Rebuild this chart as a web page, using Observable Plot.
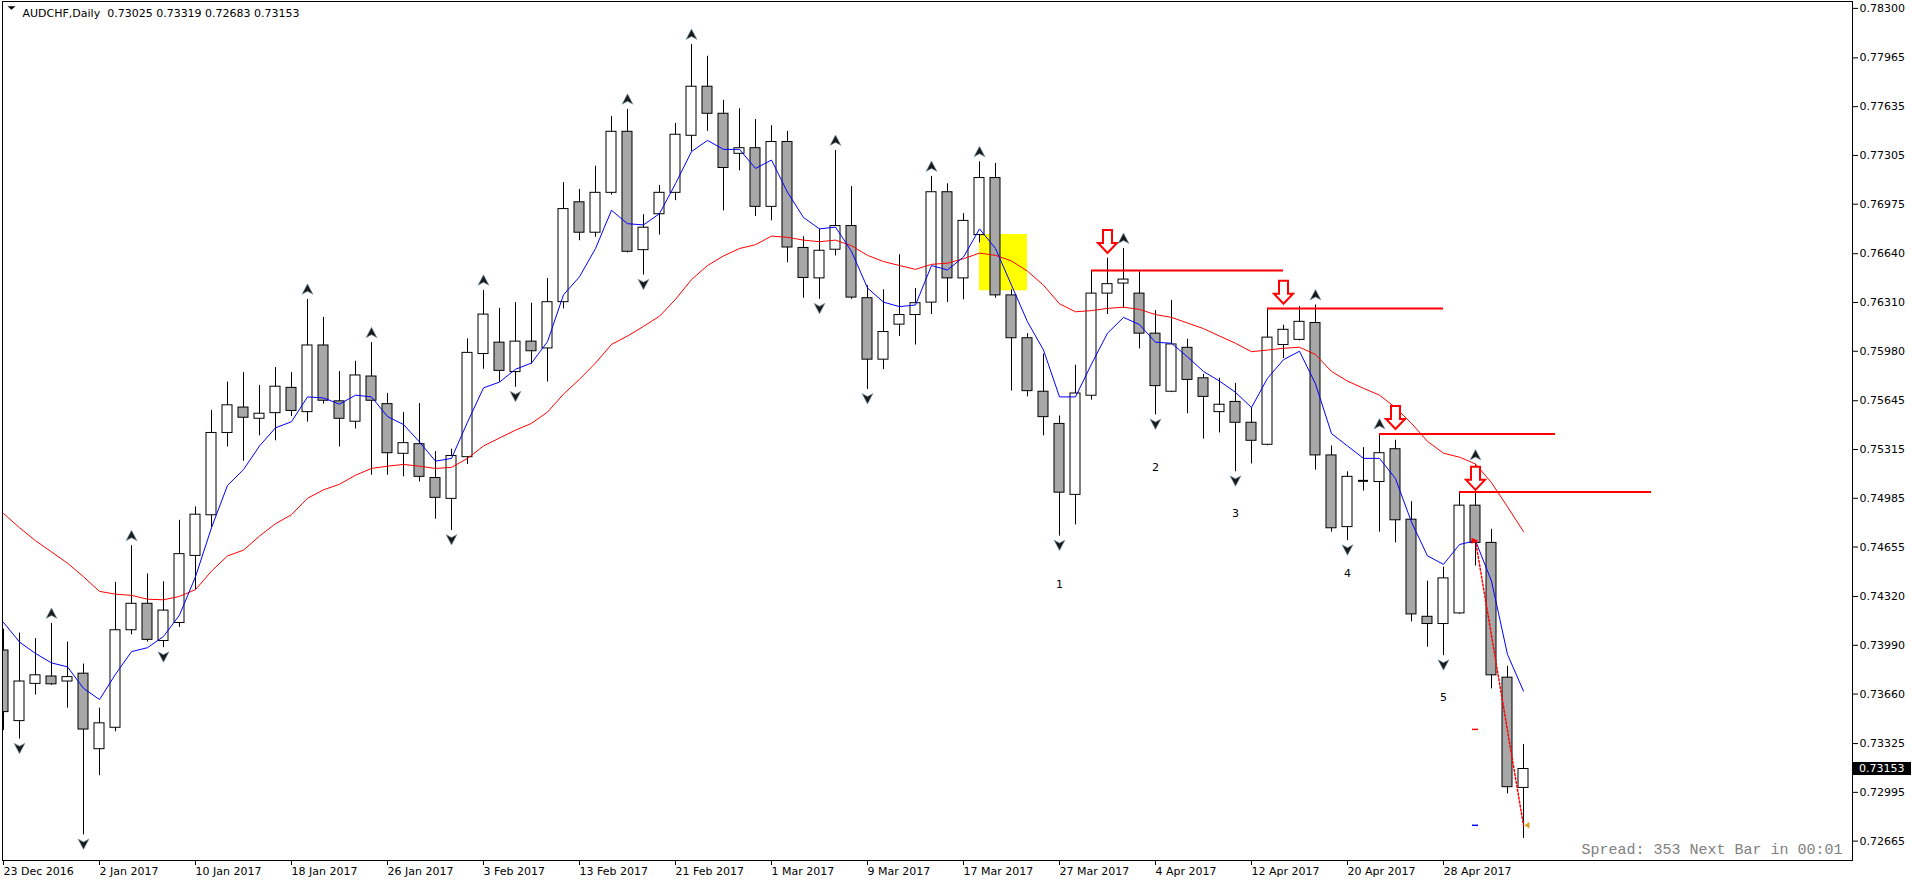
<!DOCTYPE html>
<html><head><meta charset="utf-8">
<script src="https://cdn.jsdelivr.net/npm/d3@7"></script>
<script src="https://cdn.jsdelivr.net/npm/@observablehq/plot@0.6"></script>
<style>html,body{margin:0;padding:0;background:#fff;overflow:hidden}</style>
</head><body><div id="chart"></div>
<script>
// ---------- data ----------
const title = "AUDCHF,Daily  0.73025 0.73319 0.72683 0.73153";
const xTickIdx = [0,6,12,18,24,30,36,42,48,54,60,66,72,78,84,90];
const xTickLabels = ["23 Dec 2016","2 Jan 2017","10 Jan 2017","18 Jan 2017","26 Jan 2017","3 Feb 2017","13 Feb 2017","21 Feb 2017","1 Mar 2017","9 Mar 2017","17 Mar 2017","27 Mar 2017","4 Apr 2017","12 Apr 2017","20 Apr 2017","28 Apr 2017"];
const yTicks = [0.78300,0.77965,0.77635,0.77305,0.76975,0.76640,0.76310,0.75980,0.75645,0.75315,0.74985,0.74655,0.74320,0.73990,0.73660,0.73325,0.72995,0.72665];

const open = [
.73955,.73477,.73729,.73779,.73745,.73798,.73287,.73432,.74092,.74271,
.74019,.74141,.74595,.74870,.75427,.75599,.75523,.75561,.75732,.75568,
.76019,.75641,.75503,.75809,.75622,.75286,.75351,.75122,.74981,.75263,
.75961,.76038,.75839,.76045,.75999,.76312,.76988,.76782,.77052,.77465,
.76664,.76907,.77052,.77438,.77770,.77587,.77316,.77354,.76957,.77396,
.76679,.76473,.76667,.76827,.76339,.75923,.76160,.76225,.76309,.77056,
.76473,.76766,.77152,.76358,.76068,.75706,.75488,.75008,.75679,.76370,
.76438,.76370,.76099,.75706,.76003,.75797,.75568,.75637,.75496,.75347,
.76022,.76057,.76171,.75275,.74790,.75103,.75095,.75317,.74840,.74183,
.74134,.74206,.74935,.74683,.73771,.73025];
const high = [
.74099,.74073,.74035,.74138,.74012,.73863,.73565,.74416,.74664,.74473,
.74420,.74836,.74927,.75580,.75771,.75835,.75748,.75870,.75835,.76331,
.76209,.75843,.75912,.76038,.75694,.75565,.75626,.75301,.75317,.76064,
.76392,.76270,.76309,.76305,.76473,.77121,.77075,.77232,.77568,.77617,
.76904,.77102,.77522,.78056,.77976,.77678,.77621,.77548,.77506,.77468,
.76755,.76808,.77339,.77094,.76423,.76396,.76633,.76404,.77163,.77113,
.76911,.77262,.77251,.76396,.76099,.75961,.75542,.75885,.76526,.76610,
.76675,.76518,.76255,.76324,.76061,.75824,.75797,.75763,.75599,.76270,
.76156,.76282,.76293,.75339,.75164,.75328,.75420,.75378,.74962,.74424,
.74519,.75027,.75210,.74775,.73848,.73319];
const low = [
.73413,.73355,.73653,.73718,.73565,.72707,.73108,.73405,.74061,.74012,
.73974,.74111,.74367,.74786,.75332,.75236,.75408,.75374,.75538,.75500,
.75622,.75332,.75454,.75141,.75141,.75130,.75095,.74843,.74767,.75214,
.75858,.75771,.75736,.75893,.75771,.76267,.76728,.76751,.77037,.76645,
.76495,.76766,.76999,.77331,.77468,.76930,.77201,.76892,.76862,.76579,
.76339,.76331,.76625,.76331,.75721,.75855,.76080,.76022,.76228,.76309,
.76328,.76713,.76339,.75710,.75671,.75408,.74729,.74805,.75649,.76228,
.76270,.75996,.75549,.75700,.75557,.75385,.75427,.75164,.75217,.75340,
.75931,.76050,.75175,.74756,.74698,.75034,.74756,.74683,.74149,.73977,
.73920,.74200,.74527,.73695,.72985,.72683];
const close = [
.73538,.73745,.73787,.73726,.73775,.73420,.73462,.74092,.74271,.74027,
.74225,.74607,.74874,.75427,.75614,.75530,.75557,.75740,.75576,.76019,
.75645,.75523,.75816,.75645,.75290,.75358,.75130,.74988,.75271,.75969,
.76228,.75847,.76045,.75980,.76312,.76942,.76782,.77052,.77465,.76653,
.76816,.77052,.77445,.77770,.77587,.77220,.77354,.76957,.77396,.76682,
.76476,.76660,.76827,.76343,.75923,.76110,.76225,.76305,.77056,.76473,
.76862,.77152,.76358,.76068,.75710,.75534,.75023,.75694,.76370,.76434,
.76465,.76099,.75744,.76026,.75786,.75671,.75618,.75496,.75374,.76072,
.76125,.76179,.75275,.74782,.75130,.75103,.75290,.74836,.74199,.74134,
.74443,.74935,.74683,.73787,.73030,.73153];
const maFast = [
.74145,.74012,.73935,.73871,.73844,.73699,.73623,.73794,.73947,.73974,
.74050,.74195,.74454,.74786,.75072,.75179,.75339,.75462,.75503,.75671,
.75664,.75622,.75683,.75671,.75538,.75484,.75366,.75236,.75255,.75500,
.75732,.75771,.75858,.75900,.76045,.76362,.76484,.76675,.76934,.76843,
.76835,.76911,.77114,.77331,.77407,.77346,.77346,.77217,.77274,.77056,
.76885,.76808,.76820,.76656,.76408,.76312,.76282,.76293,.76560,.76530,
.76618,.76808,.76675,.76427,.76179,.75988,.75671,.75671,.75893,.76102,
.76209,.76160,.76041,.76034,.75942,.75843,.75778,.75702,.75599,.75797,
.75923,.75980,.75759,.75423,.75339,.75255,.75255,.75118,.74824,.74595,
.74538,.74672,.74698,.74424,.73928,.73680];
const maSlow = [
.74882,.74786,.74698,.74622,.74546,.74454,.74355,.74336,.74328,.74302,
.74298,.74321,.74367,.74492,.74595,.74634,.74729,.74813,.74874,.74985,
.75042,.75080,.75141,.75187,.75202,.75214,.75202,.75187,.75194,.75255,
.75339,.75393,.75446,.75492,.75568,.75690,.75790,.75900,.76026,.76083,
.76148,.76217,.76331,.76465,.76560,.76625,.76675,.76701,.76759,.76751,
.76732,.76721,.76732,.76694,.76629,.76587,.76560,.76534,.76568,.76576,
.76606,.76644,.76629,.76591,.76522,.76427,.76301,.76247,.76255,.76270,
.76278,.76263,.76228,.76209,.76171,.76133,.76083,.76034,.75977,.75988,
.76000,.76007,.75958,.75843,.75778,.75729,.75683,.75599,.75492,.75370,
.75290,.75263,.75217,.75091,.74927,.74760];

const fractalUp = [3,8,19,23,30,39,43,52,58,61,70,82,86,92];
const fractalDown = [1,5,10,28,32,40,51,54,66,72,77,84,90];

const waveIdx = [66,72,77,84,90];
const waveText = ["1","2","3","4","5"];
const wavePrice = [0.74401,0.75195,0.74882,0.74474,0.73634];

const resFrom = [68,79,86,91];
const resTo = [80,90,97,103];
const resPrice = [0.76526,0.76270,0.75420,0.75027];

const arrowIdx = [69,80,87,92];
const arrowTip = [0.76645,0.76301,0.75454,0.75042];

const hlFrom = 61, hlTo = 64, hlTop = 0.76770, hlBottom = 0.76389;

const tradeIdx = [92,95];
const tradePrice = [0.74698,0.72772];
const tradeSL = 0.73421, tradeTP = 0.72772;

const spreadText = "Spread: 353 Next Bar in 00:01";
const lastPrice = 0.73153;

// ---------- build ----------
const bars = open.map((o,i)=>({i, open:o, high:high[i], low:low[i], close:close[i]}));
const bull = bars.filter(d=>d.close>d.open);
const bear = bars.filter(d=>d.close<d.open);
const doji = bars.filter(d=>d.close===d.open);
const ma = maFast.map((v,i)=>({i, fast:v, slow:maSlow[i]}));
const hw = 5/16;

const fracUpSym = {draw(c){c.moveTo(0,-5.5);c.lineTo(5.5,5);c.lineTo(0,2);c.lineTo(-5.5,5);c.closePath();}};
const fracDnSym = {draw(c){c.moveTo(0,5.5);c.lineTo(5.5,-5);c.lineTo(0,-2);c.lineTo(-5.5,-5);c.closePath();}};
const sellSym = {draw(c){c.moveTo(-4.5,-23);c.lineTo(4.5,-23);c.lineTo(4.5,-10);c.lineTo(9.5,-10);c.lineTo(0,0);c.lineTo(-9.5,-10);c.lineTo(-4.5,-10);c.closePath();}};
const triDownSym = {draw(c){c.moveTo(-4,-1.8);c.lineTo(4,-1.8);c.lineTo(0,1.8);c.closePath();}};
const arrowRightSym = {draw(c){c.moveTo(-4,-3);c.lineTo(3,0);c.lineTo(-4,3);c.closePath();}};
const triLeftSym = {draw(c){c.moveTo(4,-3.5);c.lineTo(-1,0);c.lineTo(4,3.5);c.closePath();}};

const res = resFrom.map((f,k)=>({x1:f, x2:resTo[k], y:resPrice[k]}));
const arrows = arrowIdx.map((d,k)=>({i:d, y:arrowTip[k]}));
const waves = waveIdx.map((d,k)=>({i:d, y:wavePrice[k], t:waveText[k]}));
const trade = tradeIdx.map((d,k)=>({i:d, y:tradePrice[k]}));

const chart = Plot.plot({
  width: 1912, height: 884,
  marginLeft: 2, marginRight: 60, marginTop: 1, marginBottom: 24,
  x: {type: "linear", domain: [-0.0625, 115.5625]},
  y: {domain: [0.725338, 0.783467]},
  style: {fontFamily: "DejaVu Sans", fontSize: "11px", color: "black", background: "white", overflow: "visible"},
  marks: [
    Plot.rect([0], {x1: ()=>hlFrom, x2: ()=>hlTo, y1: ()=>hlBottom, y2: ()=>hlTop, fill: "#ffff00"}),
    Plot.ruleX(bars, {x: "i", y1: "low", y2: "high", stroke: "black", strokeWidth: 1, clip: true}),
    Plot.rect(bull, {x1: d=>d.i-hw, x2: d=>d.i+hw, y1: "open", y2: "close", fill: "white", stroke: "black", strokeWidth: 1, clip: true}),
    Plot.rect(bear, {x1: d=>d.i-hw, x2: d=>d.i+hw, y1: "open", y2: "close", fill: "#a8a8a8", stroke: "black", strokeWidth: 1, clip: true}),
    Plot.ruleY(doji, {x1: d=>d.i-hw, x2: d=>d.i+hw, y: "open", stroke: "black", strokeWidth: 2}),
    Plot.line(ma, {x: "i", y: "slow", stroke: "#ff0000", strokeWidth: 1, clip: true}),
    Plot.line(ma, {x: "i", y: "fast", stroke: "#0000ff", strokeWidth: 1, clip: true}),
    Plot.ruleY(res, {x1: "x1", x2: "x2", y: "y", stroke: "#ff0000", strokeWidth: 2}),
    Plot.dot(arrows, {x: "i", y: "y", symbol: sellSym, fill: "white", stroke: "#ff0000", strokeWidth: 2}),
    Plot.dot(fractalUp, {x: d=>d, y: d=>high[d], dy: -10, symbol: fracUpSym, fill: "#1a1a1a", stroke: "#7f9fb0", strokeWidth: 0.6}),
    Plot.dot(fractalDown, {x: d=>d, y: d=>low[d], dy: 9, symbol: fracDnSym, fill: "#1a1a1a", stroke: "#7f9fb0", strokeWidth: 0.6}),
    Plot.text(waves, {x: "i", y: "y", text: "t", fill: "black", fontSize: 11}),
    Plot.line(trade, {x: "i", y: "y", stroke: "#ff0000", strokeWidth: 1.5, strokeDasharray: "2,2"}),
    Plot.dot(trade.slice(0,1), {x: "i", y: "y", symbol: arrowRightSym, fill: "#ff0000"}),
    Plot.dot(trade.slice(1), {x: "i", y: "y", dx: 2, symbol: triLeftSym, fill: "#d9a520"}),
    Plot.ruleY([tradeSL], {x1: tradeIdx[0]-0.19, x2: tradeIdx[0]+0.19, y: d=>d, stroke: "#ff0000", strokeWidth: 1.5}),
    Plot.ruleY([tradeTP], {x1: tradeIdx[0]-0.19, x2: tradeIdx[0]+0.19, y: d=>d, stroke: "#0000ff", strokeWidth: 1.5}),
    Plot.frame({stroke: "black"}),
    Plot.axisY({anchor: "right", ticks: yTicks, tickFormat: d=>d.toFixed(5), tickSize: 5, tickPadding: 2, label: null, fontSize: 11}),
    Plot.axisX({anchor: "bottom", ticks: xTickIdx, tickFormat: d=>xTickLabels[xTickIdx.indexOf(d)], tickSize: 5, tickPadding: 2, textAnchor: "start", dx: 0, label: null, fontSize: 11}),
    Plot.dot([0], {frameAnchor: "top-left", dx: 9, dy: 6.5, symbol: triDownSym, fill: "black"}),
    Plot.text([title], {frameAnchor: "top-left", dx: 20, dy: 7.5, textAnchor: "start", lineAnchor: "top", fontSize: 11, fill: "black"}),
    Plot.text([spreadText], {frameAnchor: "bottom-right", dx: -10, dy: -11, textAnchor: "end", lineAnchor: "middle", fontFamily: "Liberation Mono", fontSize: 15, fill: "#808080"})
  ]
});

// current price tag on the right axis
const yScale = chart.scale("y");
const py = yScale.apply(lastPrice);
const svg = d3.select(chart);
svg.append("rect").attr("x", 1853).attr("y", py - 6.5).attr("width", 58).attr("height", 13).attr("fill", "black");
svg.append("text").attr("x", 1859).attr("y", py).attr("dy", "0.35em").attr("text-anchor", "start")
  .attr("fill", "white").attr("font-family", "DejaVu Sans").attr("font-size", 11).text(lastPrice.toFixed(5));

document.getElementById("chart").appendChild(chart);
</script>
</body></html>
